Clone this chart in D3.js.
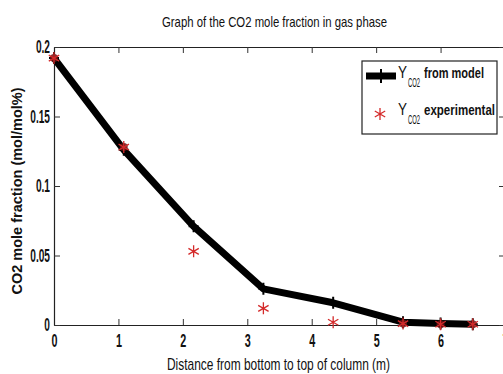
<!DOCTYPE html>
<html>
<head>
<meta charset="utf-8">
<script src="https://cdn.jsdelivr.net/npm/d3@7"></script>
<style>
  body { margin: 0; background: #fff; }
  svg { display: block; }
  text { font-family: "Liberation Sans", Arial, sans-serif; }
</style>
</head>
<body>
<div id="chart"></div>
<script>
// data
const distance = [0, 1.083, 2.167, 3.25, 4.333, 5.417, 6.0, 6.5];
const yModel = [0.192, 0.126, 0.071, 0.026, 0.016, 0.002, 0.001, 0.0005];
const yExperimental = [0.192, 0.128, 0.053, 0.012, 0.002, 0.001, 0.0005, 0.0005];
const xTicks = [0, 1, 2, 3, 4, 5, 6, 7];
const yTicks = [0, 0.05, 0.1, 0.15, 0.2];

const W = 503, H = 374;
const margin = { top: 47, right: -2, bottom: 49, left: 54 };

const svg = d3.select('#chart').append('svg')
  .attr('width', W)
  .attr('height', H);

const x = d3.scaleLinear().domain([0, 7]).range([margin.left, W - margin.right]);
const y = d3.scaleLinear().domain([0, 0.2]).range([H - margin.bottom, margin.top]);

// no narrow font installed, so squeeze text horizontally
function squeeze(sel, k) {
  sel.each(function () {
    const w = this.getComputedTextLength();
    d3.select(this).attr('textLength', w * k).attr('lengthAdjust', 'spacingAndGlyphs');
  });
}

const fmtY = d => d === 0 ? '0' : String(d);

// axes, MATLAB style: ticks inside on all four sides
svg.append('g')
  .attr('transform', `translate(0,${y(0)})`)
  .call(d3.axisBottom(x).tickValues(xTicks).tickSizeInner(-6).tickSizeOuter(0).tickPadding(9).tickFormat(d3.format('d')))
  .call(g => g.selectAll('text').attr('font-size', 18).attr('font-weight', 'bold').attr('fill', '#111').call(squeeze, 0.6));

svg.append('g')
  .attr('transform', `translate(0,${y(0.2)})`)
  .call(d3.axisTop(x).tickValues(xTicks).tickSizeInner(-6).tickSizeOuter(0).tickFormat(''));

svg.append('g')
  .attr('transform', `translate(${x(0)},0)`)
  .call(d3.axisLeft(y).tickValues(yTicks).tickSizeInner(-6).tickSizeOuter(0).tickPadding(4).tickFormat(fmtY))
  .call(g => g.selectAll('text').attr('font-size', 17.5).attr('font-weight', 'bold').attr('fill', '#111').call(squeeze, 0.58));

svg.append('g')
  .attr('transform', `translate(${x(7)},0)`)
  .call(d3.axisRight(y).tickValues(yTicks).tickSizeInner(-6).tickSizeOuter(0).tickFormat(''));

svg.selectAll('.domain').attr('stroke', '#222').attr('stroke-width', 1.2);
svg.selectAll('.tick line').attr('stroke', '#333');

// model line
const line = d3.line().x((d, i) => x(distance[i])).y(d => y(d));
svg.append('path')
  .datum(yModel)
  .attr('d', line)
  .attr('fill', 'none')
  .attr('stroke', '#000')
  .attr('stroke-width', 7)
  .attr('stroke-linejoin', 'round');

// markers on model line
svg.selectAll('.mk')
  .data(yModel)
  .enter().append('path')
  .attr('d', (d, i) => {
    const cx = x(distance[i]), cy = y(d);
    return `M${cx - 5},${cy}H${cx + 5}M${cx},${cy - 6}V${cy + 6}`;
  })
  .attr('stroke', '#000')
  .attr('stroke-width', 2);

// dark red blobs where the experimental points sit on the line
const overlap = d3.range(distance.length).filter(i => Math.abs(y(yExperimental[i]) - y(yModel[i])) < 5);
svg.selectAll('.dot')
  .data(overlap)
  .enter().append('circle')
  .attr('cx', i => x(distance[i]))
  .attr('cy', i => y(yExperimental[i]))
  .attr('r', 4)
  .attr('fill', '#6b1414')
  .attr('opacity', 0.85);

// experimental asterisks
function star(cx, cy, r) {
  let p = '';
  [90, 30, 150].forEach(a => {
    const rad = a * Math.PI / 180;
    const dx = r * Math.cos(rad), dy = r * Math.sin(rad);
    p += `M${cx - dx},${cy - dy}L${cx + dx},${cy + dy}`;
  });
  return p;
}
svg.selectAll('.exp')
  .data(yExperimental)
  .enter().append('path')
  .attr('d', (d, i) => star(x(distance[i]), y(d), 6))
  .attr('stroke', '#d42a2a')
  .attr('stroke-width', 1.3)
  .attr('fill', 'none');

// title and axis labels
svg.append('text')
  .attr('x', 162).attr('y', 27)
  .attr('font-size', 14.5)
  .attr('fill', '#111')
  .attr('textLength', 225).attr('lengthAdjust', 'spacingAndGlyphs')
  .text('Graph of the CO2 mole fraction in gas phase');

svg.append('text')
  .attr('x', 167).attr('y', 370)
  .attr('font-size', 17)
  .attr('fill', '#111')
  .attr('textLength', 223).attr('lengthAdjust', 'spacingAndGlyphs')
  .text('Distance from bottom to top of column (m)');

svg.append('text')
  .attr('transform', 'translate(22,191) rotate(-90)')
  .attr('text-anchor', 'middle')
  .attr('font-family', '"DejaVu Sans", sans-serif')
  .attr('font-weight', 'bold')
  .attr('font-size', 14.5)
  .attr('fill', '#111')
  .text('CO2 mole fraction (mol/mol%)');

// legend
const lg = svg.append('g');
lg.append('rect')
  .attr('x', 362).attr('y', 61).attr('width', 135).attr('height', 73)
  .attr('fill', '#fff').attr('stroke', '#222').attr('stroke-width', 1.2);

lg.append('line')
  .attr('x1', 366).attr('x2', 396).attr('y1', 76).attr('y2', 76)
  .attr('stroke', '#000').attr('stroke-width', 7);
lg.append('path')
  .attr('d', 'M381,69V83M376,76H386')
  .attr('stroke', '#000').attr('stroke-width', 2);
lg.append('path')
  .attr('d', star(380, 114, 6))
  .attr('stroke', '#d42a2a').attr('stroke-width', 1.3);

const entries = [['from model', 78, 484], ['experimental', 115, 495]];
entries.forEach(([label, ly, right]) => {
  lg.append('text').attr('x', 398).attr('y', ly).attr('font-size', 16).attr('fill', '#111')
    .attr('textLength', 9).attr('lengthAdjust', 'spacingAndGlyphs')
    .text('Y');
  lg.append('text').attr('x', 408).attr('y', ly + 9).attr('font-size', 12).attr('fill', '#111')
    .attr('textLength', 12).attr('lengthAdjust', 'spacingAndGlyphs')
    .text('CO2');
  lg.append('text').attr('x', 424).attr('y', ly).attr('font-size', 15).attr('font-weight', 'bold').attr('fill', '#111')
    .attr('textLength', right - 424).attr('lengthAdjust', 'spacingAndGlyphs')
    .text(label);
});
</script>
</body>
</html>
